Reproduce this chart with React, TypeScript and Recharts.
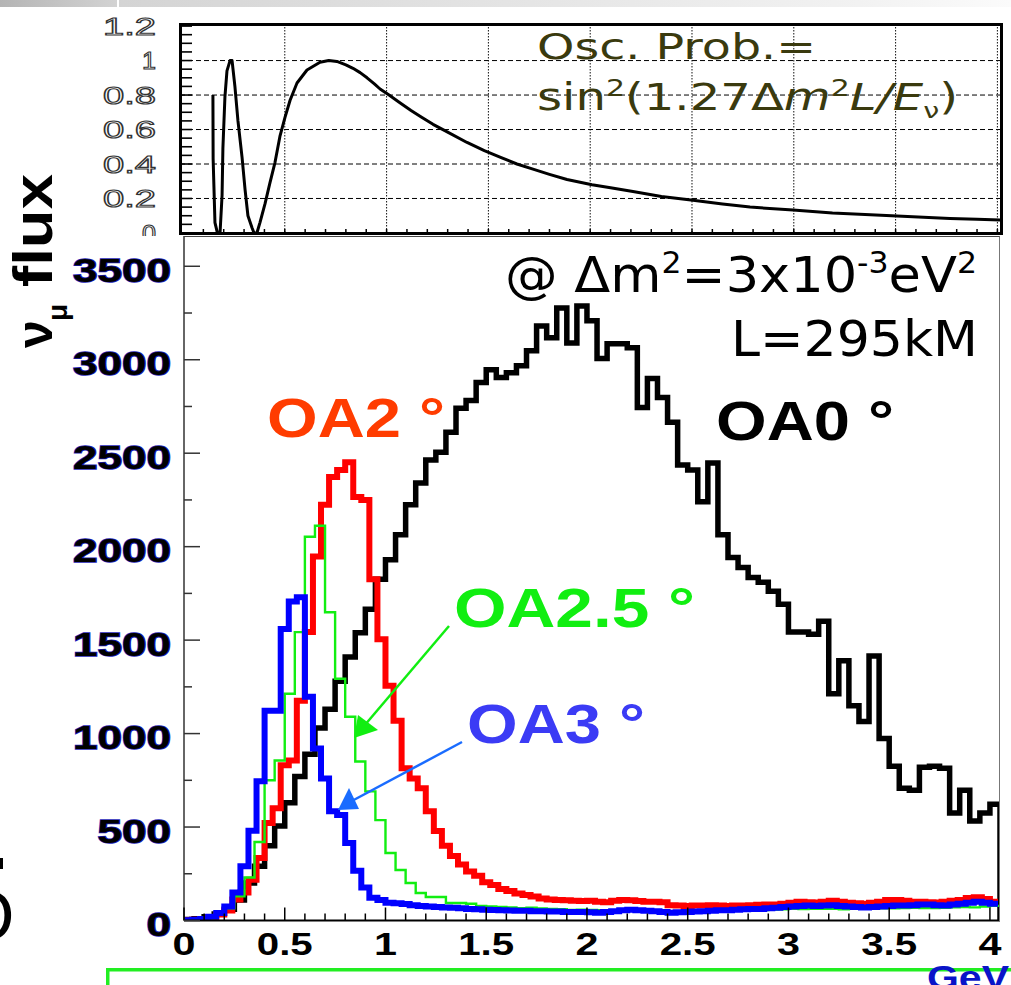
import React from "react";
import { LineChart, Line, XAxis, YAxis, CartesianGrid } from "recharts";

const W = 1011;
const H = 985;

// ---- top panel: oscillation probability ----
const oscEnergy = [
  0.147, 0.148, 0.157, 0.169, 0.182, 0.192, 0.196, 0.206, 0.216, 0.231, 0.241, 0.255, 0.27,
  0.29, 0.305, 0.319, 0.339, 0.349, 0.363, 0.378, 0.403, 0.427, 0.452, 0.476, 0.501, 0.526,
  0.56, 0.609, 0.673, 0.716, 0.756, 0.8, 0.835, 0.87, 0.904, 0.94, 0.968, 1.012, 1.06, 1.12,
  1.17, 1.228, 1.3, 1.395, 1.48, 1.557, 1.64, 1.719, 1.8, 1.886, 2.009, 2.1, 2.21, 2.35,
  2.505, 2.65, 2.785, 2.996, 3.19, 3.35, 3.507, 3.767, 3.9, 4.013, 4.03,
];
const oscProb = [
  0.8, 0.43, 0.06, 0.0, 0.0, 0.22, 0.49, 0.79, 0.94, 1.0, 1.0, 0.85, 0.65,
  0.44, 0.25, 0.1, 0.03, 0.0, 0.0, 0.06, 0.17, 0.29, 0.41, 0.56, 0.67, 0.77,
  0.87, 0.945, 0.99, 1.0, 0.995, 0.975, 0.955, 0.93, 0.9, 0.865, 0.835, 0.8, 0.76, 0.71,
  0.672, 0.63, 0.585, 0.525, 0.478, 0.44, 0.4, 0.37, 0.34, 0.31, 0.28, 0.262, 0.24, 0.212,
  0.19, 0.168, 0.15, 0.133, 0.116, 0.107, 0.099, 0.084, 0.079, 0.075, 0.074,
];
const probMajor = [0, 0.2, 0.4, 0.6, 0.8, 1, 1.2];
const probLabels = ["0", "0.2", "0.4", "0.6", "0.8", "1", "1.2"];
const probTicks = Array.from({ length: 25 }, (_, i) => (i * 5) / 100);
const oscGridY = [0.2, 0.4, 0.6, 0.8, 1];
const oscGridX = [0.5, 1, 1.5, 2, 2.5, 3, 3.5, 4];
const oscTicksX = Array.from({ length: 40 }, (_, i) => (i + 1) / 10);

// ---- bottom panel: nu_mu flux per energy bin ----
const wideBin = 0.05; // OA0 and OA2.5
const narrowBin = 0.04; // OA2 and OA3

const fluxOA0 = [
  5, 10, 20, 35, 60, 110, 200, 290, 400, 505,
  630, 770, 890, 1030, 1130, 1280, 1410, 1540, 1665, 1825,
  1930, 2064, 2224, 2340, 2463, 2505, 2612, 2740, 2782, 2878,
  2947, 2905, 2931, 2968, 3048, 3181, 3117, 3277, 3090, 3288,
  3208, 3006, 3085, 3085, 3064, 2745, 2900, 2798, 2665, 2437,
  2410, 2240, 2447, 2064, 1942, 1889, 1835, 1810, 1761, 1692,
  1543, 1543, 1532, 1601, 1213, 1389, 1149, 1064, 1415, 974,
  825, 708, 697, 820, 825, 814, 575, 697, 532, 575,
  622,
];

const fluxOA25 = [
  3, 5, 12, 30, 65, 130, 230, 420, 750, 856,
  1213, 1543, 2053, 2112, 1649, 1293, 1090, 851, 691, 537,
  361, 270, 201, 147, 126, 126, 94, 94, 90, 78,
  75, 72, 70, 66, 68, 64, 62, 60, 57, 58,
  56, 55, 53, 54, 52, 52, 50, 51, 50, 49,
  50, 52, 52, 54, 53, 55, 57, 56, 58, 60,
  62, 61, 63, 63, 62, 60, 63, 64, 62, 65,
  65, 66, 68, 67, 66, 68, 70, 72, 70, 75,
  78,
];

const fluxOA2 = [
  2, 4, 8, 18, 32, 53, 112, 150, 218, 335,
  521, 601, 830, 856, 1176, 1543, 1947, 2224, 2373, 2410,
  2452, 2266, 2250, 1825, 1505, 1256, 1069, 814, 760, 708,
  585, 479, 400, 345, 300, 262, 240, 205, 190, 168,
  158, 145, 136, 128, 118, 112, 110, 108, 106, 104,
  105, 100, 98, 105, 110, 108, 104, 100, 100, 98,
  82, 80, 78, 80, 80, 82, 80, 78, 80, 80,
  82, 84, 85, 85, 90, 95, 100, 98, 96, 100,
  105, 100, 95, 92, 90, 95, 100, 110, 110, 105,
  100, 100, 98, 96, 100, 105, 110, 120, 125, 115,
  100,
];

const fluxOA3 = [
  2, 4, 8, 20, 40, 75, 150, 290, 480, 745,
  1122, 1122, 1559, 1707, 1729, 1197, 920, 760, 585, 564,
  415, 266, 176, 122, 110, 95, 92, 88, 82, 78,
  75, 72, 70, 68, 65, 62, 60, 58, 56, 55,
  54, 52, 52, 50, 50, 48, 48, 46, 46, 45,
  44, 42, 45, 50, 55, 58, 55, 52, 50, 45,
  42, 44, 46, 48, 50, 52, 55, 55, 58, 60,
  62, 62, 65, 68, 72, 75, 78, 80, 78, 80,
  82, 78, 75, 72, 70, 72, 75, 78, 80, 80,
  82, 85, 85, 82, 80, 85, 90, 95, 100, 95,
  90,
];

const fluxTicks = Array.from({ length: 15 }, (_, i) => i * 250);
const fluxLabels = ["0", "500", "1000", "1500", "2000", "2500", "3000", "3500"];
const energyTicks = Array.from({ length: 41 }, (_, i) => i / 10);
const energyLabels = ["0", "0.5", "1", "1.5", "2", "2.5", "3", "3.5", "4"];

const SANS = "'Liberation Sans', Arial, sans-serif";
const VERA = "'DejaVu Sans', Verdana, sans-serif";

const near = (v: number, step: number) => Math.abs(v / step - Math.round(v / step)) < 1e-6;

const histogram = (values: number[], width: number, closeAtEnd = false) => {
  const pts = values.map((v, i) => ({ x: Math.round(i * width * 1000) / 1000, y: v }));
  const end = Math.round(values.length * width * 1000) / 1000;
  pts.push({ x: end, y: values[values.length - 1] });
  if (closeAtEnd) pts.push({ x: end, y: 0 });
  return pts;
};

const oscData = oscEnergy.map((e, i) => ({ x: e, y: oscProb[i] }));
const dataOA0 = histogram(fluxOA0, wideBin, true);
const dataOA25 = histogram(fluxOA25, wideBin);
const dataOA2 = histogram(fluxOA2, narrowBin);
const dataOA3 = histogram(fluxOA3, narrowBin);

const ProbTick = (props: any) => {
  const { x, y, payload } = props;
  const idx = probMajor.findIndex((m) => Math.abs(m - payload.value) < 1e-6);
  const label = idx >= 0 ? probLabels[idx] : "";
  return (
    <g>
      <line x1={x} x2={x + 12} y1={y} y2={y} stroke="#000" strokeWidth={1.6} />
      {idx >= 0 && (
        <text
          x={x - 24}
          y={y}
          dy="0.36em"
          textAnchor="end"
          fontFamily={SANS}
          fontSize={24}
          fill="#fff"
          stroke="#333"
          strokeWidth={1.1}
          textLength={label.length > 1 ? 53 : 14}
          lengthAdjust="spacingAndGlyphs"
        >
          {label}
        </text>
      )}
    </g>
  );
};

const OscXTick = (props: any) => {
  const { x, y } = props;
  return <line x1={x} x2={x} y1={y} y2={y - 5} stroke="#000" strokeWidth={1.5} />;
};

const FluxTick = (props: any) => {
  const { x, y, payload } = props;
  const major = near(payload.value, 500);
  const label = fluxLabels[Math.round(payload.value / 500)];
  return (
    <g>
      <line x1={x} x2={x + (major ? 16 : 8)} y1={y} y2={y} stroke="#333" strokeWidth={1.5} />
      {major && (
        <text
          x={x - 13}
          y={y + 3.5}
          dy="0.36em"
          textAnchor="end"
          fontFamily={SANS}
          fontWeight="bold"
          fontSize={34}
          fill="#000"
          stroke="#1c1cb8"
          strokeWidth={1.6}
          paintOrder="stroke"
          textLength={label.length * 24.5}
          lengthAdjust="spacingAndGlyphs"
        >
          {label}
        </text>
      )}
    </g>
  );
};

const EnergyTick = (props: any) => {
  const { x, y, payload } = props;
  const major = near(payload.value, 0.5);
  const label = energyLabels[Math.round(payload.value / 0.5)];
  return (
    <g>
      <line x1={x} x2={x} y1={y} y2={y - (major ? 13 : 7)} stroke="#000" strokeWidth={1.5} />
      {major && (
        <text
          x={x}
          y={y + 34}
          textAnchor="middle"
          fontFamily={SANS}
          fontWeight="bold"
          fontSize={31}
          fill="#000"
          textLength={label.length > 1 ? 56 : 23}
          lengthAdjust="spacingAndGlyphs"
        >
          {label}
        </text>
      )}
    </g>
  );
};

const abs = (left: number, top: number): React.CSSProperties => ({
  position: "absolute",
  left,
  top,
});

export default function App() {
  return (
    <div
      style={{
        position: "absolute",
        left: 0,
        top: 0,
        width: W,
        height: H,
        background: "#fff",
        overflow: "hidden",
      }}
    >
      {/* slide header strip */}
      <div
        style={{
          ...abs(0, 0),
          width: W,
          height: 7,
          background: "linear-gradient(to right, #b4b4b4, #d4d4d4 12%, #e2e2e2 45%, #f2f2f2 85%, #fbfbfb)",
        }}
      />
      <div style={{ ...abs(117, 0), width: 2, height: 7, background: "#fff" }} />

      {/* oscillation probability panel */}
      <div style={abs(0, 0)}>
        <LineChart width={W} height={250} margin={{ top: 24, right: 9, bottom: 0, left: 80 }}>
          <CartesianGrid
            vertical={false}
            horizontalValues={oscGridY}
            stroke="#000"
            strokeWidth={1}
            strokeDasharray="5 3"
          />
          <CartesianGrid
            horizontal={false}
            verticalValues={oscGridX}
            stroke="#111"
            strokeWidth={1}
            strokeDasharray="1.5 1.5"
          />
          <XAxis
            type="number"
            dataKey="x"
            domain={[-0.0147, 4.0226]}
            allowDataOverflow
            ticks={oscTicksX}
            interval={0}
            tickSize={0}
            tickMargin={0}
            tickLine={false}
            axisLine={false}
            height={16}
            tick={(p: any) => <OscXTick {...p} />}
          />
          <YAxis
            type="number"
            domain={[-0.006, 1.212]}
            allowDataOverflow
            ticks={probTicks}
            interval={0}
            tickSize={0}
            tickMargin={0}
            tickLine={false}
            axisLine={false}
            width={100}
            tick={(p: any) => <ProbTick {...p} />}
          />
          <Line
            data={oscData}
            dataKey="y"
            type="linear"
            stroke="#000"
            strokeWidth={3}
            strokeLinejoin="round"
            dot={false}
            isAnimationActive={false}
          />
        </LineChart>
      </div>

      {/* flux panel */}
      <div style={abs(0, 0)}>
        <LineChart width={W} height={H} margin={{ top: 236, right: 11, bottom: 24.5, left: 84 }}>
          <XAxis
            type="number"
            dataKey="x"
            domain={[0, 4.05]}
            allowDataOverflow
            ticks={energyTicks}
            interval={0}
            tickSize={0}
            tickMargin={0}
            tickLine={false}
            axisLine={{ stroke: "#000", strokeWidth: 2 }}
            height={40}
            tick={(p: any) => <EnergyTick {...p} />}
          />
          <YAxis
            type="number"
            domain={[0, 3662]}
            allowDataOverflow
            ticks={fluxTicks}
            interval={0}
            tickSize={0}
            tickMargin={0}
            tickLine={false}
            axisLine={{ stroke: "#333", strokeWidth: 1.5 }}
            width={100}
            tick={(p: any) => <FluxTick {...p} />}
          />
          <Line
            data={dataOA0}
            dataKey="y"
            type="stepAfter"
            stroke="#000"
            strokeWidth={5.5}
            dot={false}
            isAnimationActive={false}
          />
          <Line
            data={dataOA2}
            dataKey="y"
            type="stepAfter"
            stroke="#ff0000"
            strokeWidth={6}
            dot={false}
            isAnimationActive={false}
          />
          <Line
            data={dataOA25}
            dataKey="y"
            type="stepAfter"
            stroke="#11ee11"
            strokeWidth={2.4}
            dot={false}
            isAnimationActive={false}
          />
          <Line
            data={dataOA3}
            dataKey="y"
            type="stepAfter"
            stroke="#0000ff"
            strokeWidth={6}
            dot={false}
            isAnimationActive={false}
          />
        </LineChart>
      </div>

      {/* panel frames */}
      <div
        style={{
          ...abs(179, 23),
          width: 824,
          height: 212,
          border: "3px solid #000",
          boxSizing: "border-box",
        }}
      />
      <div
        style={{
          ...abs(184, 236),
          width: 816,
          height: 685,
          borderTop: "1px solid #444",
          borderRight: "1px solid #777",
          boxSizing: "border-box",
        }}
      />

      <svg width={W} height={H} style={{ ...abs(0, 0), pointerEvents: "none" }}>
        <rect x={118} y={236} width={64} height={18} fill="#fff" />

        {/* axis title */}
        <text transform="rotate(-90 52 348)" x={52} y={348} fontFamily={SANS} fontWeight="bold" fontSize={50}>
          ν
        </text>
        <text transform="rotate(-90 67 321)" x={67} y={321} fontFamily={SANS} fontWeight="bold" fontSize={28}>
          μ
        </text>
        <text
          transform="rotate(-90 52 287)"
          x={52}
          y={287}
          fontFamily={SANS}
          fontWeight="bold"
          fontSize={55}
          textLength={113}
          lengthAdjust="spacingAndGlyphs"
        >
          flux
        </text>

        {/* formula in the top panel */}
        <text x={537} y={59} fontFamily={VERA} fontSize={36} fill="#3a3a0e" textLength={279} lengthAdjust="spacingAndGlyphs">
          Osc. Prob.=
        </text>
        <text x={537} y={110} fontFamily={VERA} fontSize={37} fill="#3a3a0e" textLength={421} lengthAdjust="spacingAndGlyphs">
          sin<tspan fontSize={23} dy={-14}>2</tspan>
          <tspan dy={14}>(1.27Δ</tspan>
          <tspan fontStyle="italic">m</tspan>
          <tspan fontSize={23} dy={-14}>2</tspan>
          <tspan fontStyle="italic" dy={14}>L/E</tspan>
          <tspan fontSize={22} dy={8}>ν</tspan>
          <tspan dy={-8}>)</tspan>
        </text>

        {/* parameters */}
        <text x={505} y={292} fontFamily={VERA} fontSize={50} fill="#000" textLength={472} lengthAdjust="spacingAndGlyphs">
          @ Δm<tspan fontSize={30} dy={-19}>2</tspan>
          <tspan dy={19}>=3x10</tspan>
          <tspan fontSize={30} dy={-19}>-3</tspan>
          <tspan dy={19}>eV</tspan>
          <tspan fontSize={30} dy={-19}>2</tspan>
        </text>
        <text x={731} y={356} fontFamily={VERA} fontSize={50} fill="#000" textLength={247} lengthAdjust="spacingAndGlyphs">
          L=295kM
        </text>

        {/* series labels */}
        <text x={267} y={437} fontFamily={SANS} fontWeight="bold" fontSize={56} fill="#ff3c00" textLength={178} lengthAdjust="spacingAndGlyphs">
          OA2 °
        </text>
        <text x={716} y={440} fontFamily={SANS} fontWeight="bold" fontSize={56} fill="#000" textLength={178} lengthAdjust="spacingAndGlyphs">
          OA0 °
        </text>
        <text x={454} y={627} fontFamily={SANS} fontWeight="bold" fontSize={56} fill="#11ee11" textLength={241} lengthAdjust="spacingAndGlyphs">
          OA2.5 °
        </text>
        <text x={467} y={743} fontFamily={SANS} fontWeight="bold" fontSize={56} fill="#3b3bf5" textLength={178} lengthAdjust="spacingAndGlyphs">
          OA3 °
        </text>

        {/* arrows */}
        <line x1={449} y1={626} x2={364} y2={726} stroke="#11ee11" strokeWidth={2.5} />
        <polygon points="354,738 358,715 378,730" fill="#11ee11" />
        <line x1={462} y1={742} x2={350} y2={802} stroke="#1a6cff" strokeWidth={2.5} />
        <polygon points="338,810 349,788 359,809" fill="#1a6cff" />

        {/* bottom decoration */}
        <rect x={106} y={968} width={905} height={3.5} fill="#22ee22" />
        <rect x={106} y={968} width={3.5} height={17} fill="#22ee22" />
        <text x={927} y={989} fontFamily={SANS} fontWeight="bold" fontSize={34} fill="#0a14c8" textLength={82} lengthAdjust="spacingAndGlyphs">
          GeV
        </text>
        <text x={-40} y={940} fontFamily={SANS} fontSize={70} fill="#000">
          O
        </text>
        <rect x={0} y={858} width={3} height={11} fill="#000" />
      </svg>
    </div>
  );
}
